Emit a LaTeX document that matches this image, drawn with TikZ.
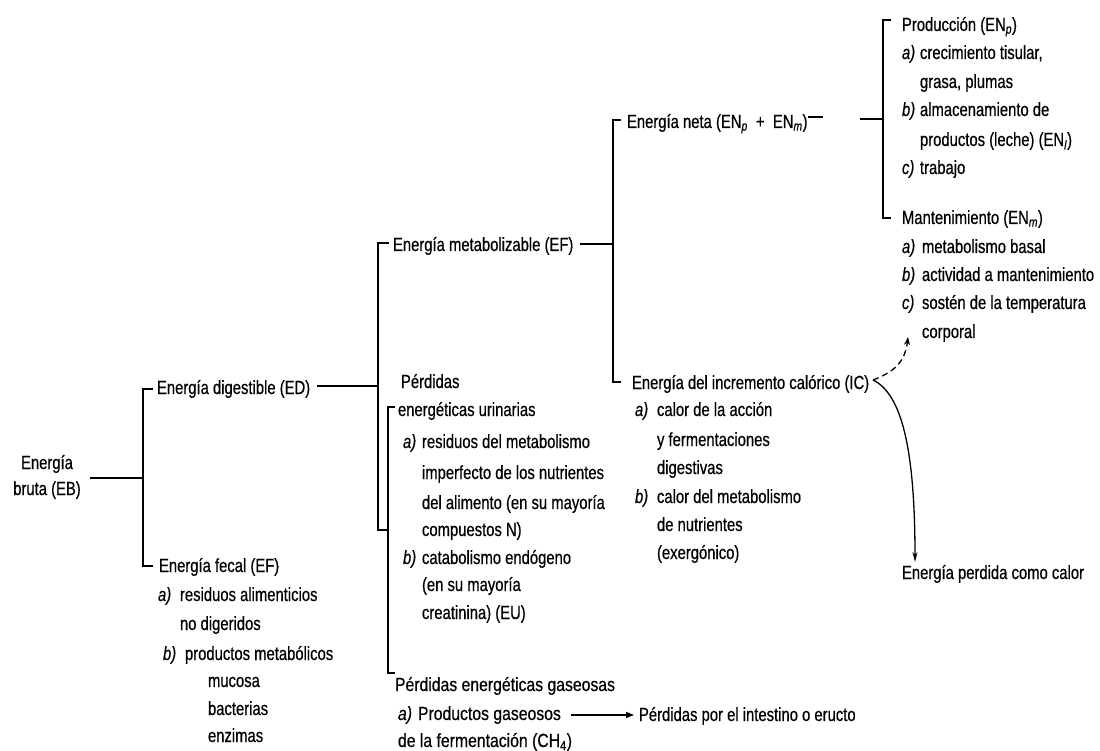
\documentclass[tikz,border=0pt]{standalone}
\usepackage{fontspec}
\setmainfont{Liberation Sans}[FakeStretch=0.78, FakeBold=0.5]
\newfontfamily\widefont{Liberation Sans}[FakeStretch=0.83, FakeBold=0.5]
\usetikzlibrary{arrows.meta}
\newcommand\Lb[2]{\makebox[#1pt][l]{\textit{#2}}}
\newcommand\Sb[1]{\textsubscript{\textit{#1}}}
\newcommand\Tl[4]{\node[txt] (#1) at (#2,#3) {#4};}
\tikzset{
  txt/.style={anchor=base west, inner sep=0pt, outer sep=0pt, font=\fontsize{19}{22}\selectfont},
  ln/.style={line width=1.6pt, line cap=butt},
  arr/.style={line width=1.3pt},
}
\begin{document}
\begin{tikzpicture}[x=1pt,y=-1pt]
\fill[white] (0,0) rectangle (1100,751);
\useasboundingbox (0,0) rectangle (1100,751);

% ---------- texts ----------
\node[txt, anchor=center, align=center, font=\fontsize{19}{26}\selectfont] (eb) at (47,477) {Energía\\bruta (EB)};
\Tl{ed}{157}{394}{Energía digestible (ED)}
\Tl{ef}{159}{572}{Energía fecal (EF)}
\Tl{efa}{158}{601}{\Lb{22}{a)}residuos alimenticios}
\Tl{efa2}{180}{630}{no digeridos}
\Tl{efb}{163}{660}{\Lb{22}{b)}productos metabólicos}
\Tl{efb1}{208}{687}{mucosa}
\Tl{efb2}{208}{715}{bacterias}
\Tl{efb3}{208}{742}{enzimas}

\Tl{em}{393}{251}{Energía metabolizable (EF)}
\Tl{pu1}{401}{388}{Pérdidas}
\Tl{pu2}{398}{416}{energéticas urinarias}
\Tl{pua}{403}{448}{\Lb{19}{a)}residuos del metabolismo}
\Tl{pua2}{422}{479}{imperfecto de los nutrientes}
\Tl{pua3}{422}{509}{del alimento (en su mayoría}
\Tl{pua4}{422}{536}{compuestos N)}
\Tl{pub}{403}{564}{\Lb{19}{b)}catabolismo endógeno}
\Tl{pub2}{422}{591}{(en su mayoría}
\Tl{pub3}{422}{619}{creatinina) (EU)}
\Tl{pg}{395}{691}{\widefont Pérdidas energéticas gaseosas}
\Tl{pga}{398}{720}{\widefont\Lb{20}{a)}Productos gaseosos}
\Tl{pga2}{398}{747}{\widefont de la fermentación (CH\textsubscript{4})}
\Tl{intest}{639}{721}{Pérdidas por el intestino o eructo}

\Tl{neta}{627}{128}{Energía neta (EN\Sb{p}\ \ +\ \ EN\Sb{m})}
\Tl{ic}{632}{389}{Energía del incremento calórico (IC)}
\Tl{ica}{635}{416}{\Lb{22}{a)}calor de la acción}
\Tl{ica2}{657}{446}{y fermentaciones}
\Tl{ica3}{657}{474}{digestivas}
\Tl{icb}{635}{503}{\Lb{22}{b)}calor del metabolismo}
\Tl{icb2}{657}{531}{de nutrientes}
\Tl{icb3}{657}{559}{(exergónico)}
\Tl{lost}{902}{579}{Energía perdida como calor}

\Tl{prod}{902}{31}{Producción (EN\Sb{p})}
\Tl{pa}{902}{59}{\Lb{18}{a)}crecimiento tisular,}
\Tl{pa2}{920}{88}{grasa, plumas}
\Tl{pb}{902}{116}{\Lb{18}{b)}almacenamiento de}
\Tl{pb2}{920}{146}{productos (leche) (EN\Sb{l})}
\Tl{pc}{902}{174}{\Lb{18}{c)}trabajo}
\Tl{mant}{902}{224}{Mantenimiento (EN\Sb{m})}
\Tl{ma}{902}{253}{\Lb{20}{a)}metabolismo basal}
\Tl{mb}{902}{281}{\Lb{20}{b)}actividad a mantenimiento}
\Tl{mc}{902}{309}{\Lb{20}{c)}sostén de la temperatura}
\Tl{mc2}{922}{338}{corporal}

% ---------- connector points ----------
\coordinate (r0) at (90,478);   \coordinate (r1) at (143,478);
\coordinate (b1t) at (143,389); \coordinate (b1b) at (143,566);
\coordinate (d0) at (317,386);  \coordinate (d1) at (378,386);
\coordinate (b2t) at (378,243); \coordinate (b2b) at (378,530);
\coordinate (b3t) at (388,407); \coordinate (b3b) at (388,673);
\coordinate (m0) at (580,244);  \coordinate (m1) at (613,244);
\coordinate (b4t) at (613,120); \coordinate (b4b) at (613,382);
\coordinate (n0) at (808,117);  \coordinate (n1) at (823,117);
\coordinate (n2) at (860,119);  \coordinate (n3) at (883,119);
\coordinate (b5t) at (883,20);  \coordinate (b5b) at (883,218);
\coordinate (g0) at (571,715);  \coordinate (g1) at (634,715);
\coordinate (h0) at (873,380);
\coordinate (h1) at (908,337);  \coordinate (h2) at (915,562);

% ---------- brackets and lines ----------
\draw[ln] (r0) -- (r1);
\draw[ln] ([xshift=10pt]b1t) -- (b1t) -- (b1b) -- ([xshift=10pt]b1b);
\draw[ln] (d0) -- (d1);
\draw[ln] ([xshift=11pt]b2t) -- (b2t) -- (b2b) -- (b2b -| b3t);
\draw[ln] ([xshift=7pt]b3t) -- (b3t) -- (b3b) -- ([xshift=7pt]b3b);
\draw[ln] (m0) -- (m1);
\draw[ln] ([xshift=8pt]b4t) -- (b4t) -- (b4b) -- ([xshift=8pt]b4b);
\draw[ln] (n0) -- (n1);
\draw[ln] (n2) -- (n3);
\draw[ln] ([xshift=8pt]b5t) -- (b5t) -- (b5b) -- ([xshift=8pt]b5b);
\draw[arr, -{Triangle[length=8pt,width=6pt]}] (g0) -- (g1);

% ---------- heat arrows ----------
\draw[arr, dash pattern=on 6pt off 4pt, -{Stealth[length=8pt,width=6pt]}]
  (h0) .. controls (894,372) and (905,362) .. (h1);
\draw[arr, -{Stealth[length=10pt,width=5pt]}]
  (h0) .. controls (902,394) and (915,450) .. (h2);
\end{tikzpicture}
\end{document}
